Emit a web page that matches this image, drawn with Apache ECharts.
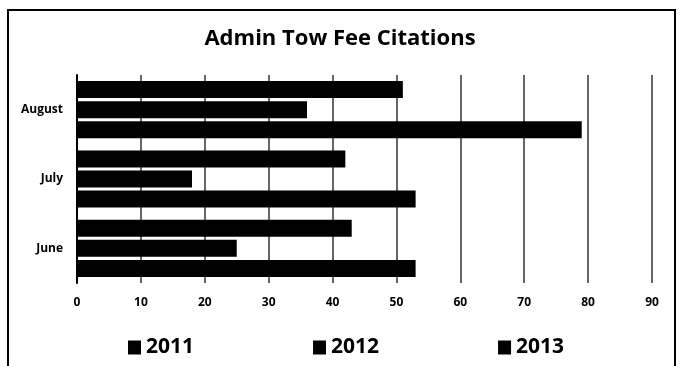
<!DOCTYPE html>
<html><head><meta charset="utf-8">
<script src="https://cdn.jsdelivr.net/npm/echarts@6/dist/echarts.min.js"></script>
<style>html,body{margin:0;padding:0;background:#fff}#c{width:680px;height:366px}</style>
</head><body><div id="c"></div>
<script>
const categories = ['June', 'July', 'August'];
const seriesNames = ['2011', '2012', '2013'];
const values2011 = [53, 53, 79];
const values2012 = [25, 18, 36];
const values2013 = [43, 42, 51];
const xTicks = [0, 10, 20, 30, 40, 50, 60, 70, 80, 90];

const chart = echarts.init(document.getElementById('c'));
const font = 'Open Sans, Lato, sans-serif';
const mk = (name, data) => ({
  name, type: 'bar', data, barWidth: 17, barGap: '18%',
  itemStyle: { color: '#000' }
});
chart.setOption({
  animation: false,
  backgroundColor: '#fff',
  title: {
    text: 'Admin Tow Fee Citations', left: 'center', top: 23,
    textStyle: { fontFamily: font, fontWeight: 'bold', fontSize: 22, color: '#000' }
  },
  legend: {
    bottom: 3, left: 123, itemWidth: 13, itemHeight: 14, itemGap: 119,
    icon: 'rect',
    textStyle: { fontFamily: font, fontSize: 21, fontWeight: 'bold', color: '#000' },
    data: seriesNames
  },
  grid: { left: 77, right: 28, top: 75, bottom: 83 },
  xAxis: {
    type: 'value', min: xTicks[0], max: xTicks[xTicks.length - 1], interval: 10,
    axisLine: { show: false },
    axisTick: { show: false },
    axisLabel: { fontFamily: font, fontWeight: 'bold', fontSize: 12, color: '#000', margin: 14 },
    splitLine: { show: true, lineStyle: { color: '#333', width: 1.5 } }
  },
  yAxis: {
    type: 'category', data: categories,
    axisLine: { show: true, lineStyle: { color: '#000', width: 2 } },
    axisTick: { show: false },
    axisLabel: { fontFamily: font, fontWeight: 'bold', fontSize: 12, color: '#000', margin: 14 }
  },
  graphic: [{
    type: 'rect', shape: { x: 8, y: 10, width: 667, height: 370 },
    style: { fill: 'none', stroke: '#000', lineWidth: 2 }, silent: true
  }],
  series: [mk('2013', values2013), mk('2012', values2012), mk('2011', values2011)]
});
</script></body></html>
